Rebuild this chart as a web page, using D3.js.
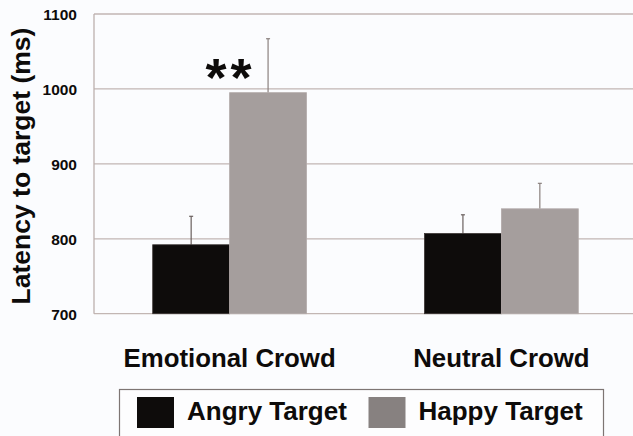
<!DOCTYPE html>
<html>
<head>
<meta charset="utf-8">
<script src="https://cdn.jsdelivr.net/npm/d3@7"></script>
<style>
  html, body { margin: 0; padding: 0; background: #fbfcfe; }
  svg { display: block; }
  text { font-family: "Liberation Sans", Arial, sans-serif; font-weight: bold; fill: #0d0b0a; }
</style>
</head>
<body>
<svg id="chart" width="633" height="436"></svg>
<script>
const categories = ["Emotional Crowd", "Neutral Crowd"];
const seriesNames = ["Angry Target", "Happy Target"];
const angryValues = [792, 807];
const happyValues = [995, 840];
const angryErrors = [38, 25];
const happyErrors = [72, 34];
const yTicks = [700, 800, 900, 1000, 1100];
const yTitle = "Latency to target (ms)";
const significance = ["**", ""];

const colors = { "Angry Target": "#0e0c0b", "Happy Target": "#a59e9d" };
const legendColors = { "Angry Target": "#0e0c0b", "Happy Target": "#878180" };
const errColors = { "Angry Target": "#6a605e", "Happy Target": "#8a807e" };

const svg = d3.select("#chart");
const W = 633, H = 436;
const plotLeft = 94, plotRight = 637, plotTop = 14, plotBottom = 313.7;

svg.append("rect").attr("width", W).attr("height", H).attr("fill", "#fbfcfe");

const y = d3.scaleLinear().domain([700, 1100]).range([plotBottom, plotTop]);
const x0 = d3.scaleBand().domain(categories).range([plotLeft, plotRight])
  .paddingInner(0.434).paddingOuter(0.216);
const x1 = d3.scaleBand().domain(seriesNames).range([0, x0.bandwidth()]);

// gridlines
svg.append("g").selectAll("line").data(yTicks).join("line")
  .attr("x1", plotLeft).attr("x2", W)
  .attr("y1", d => y(d)).attr("y2", d => y(d))
  .attr("stroke", "#c2b6b3").attr("stroke-width", 1.3);

// y axis line
svg.append("line").attr("x1", plotLeft).attr("x2", plotLeft)
  .attr("y1", y(1100)).attr("y2", y(700))
  .attr("stroke", "#bcb0ad").attr("stroke-width", 1.3);

// y tick labels
const yAxis = d3.axisLeft(y).tickValues(yTicks).tickFormat(d3.format("d")).tickSize(0).tickPadding(0);
const yg = svg.append("g").attr("transform", `translate(77,0)`).call(yAxis);
yg.select(".domain").remove();
yg.selectAll("text").attr("font-size", 15.5)
  .attr("fill", "#1a1716").attr("dy", "0.35em");

// y title
svg.append("text").attr("transform", `translate(30,166) rotate(-90)`)
  .attr("text-anchor", "middle").attr("font-size", 26.5).text(yTitle);

// data rows
const rows = categories.map((c, i) => ({
  cat: c,
  sig: significance[i],
  bars: [
    { s: "Angry Target", v: angryValues[i], e: angryErrors[i] },
    { s: "Happy Target", v: happyValues[i], e: happyErrors[i] }
  ]
}));

const groups = svg.append("g").selectAll("g").data(rows).join("g")
  .attr("transform", d => `translate(${x0(d.cat)},0)`);

// error bars (upper only)
groups.selectAll("line.err").data(d => d.bars).join("line").attr("class", "err")
  .attr("x1", d => x1(d.s) + x1.bandwidth() / 2).attr("x2", d => x1(d.s) + x1.bandwidth() / 2)
  .attr("y1", d => y(d.v)).attr("y2", d => y(d.v + d.e))
  .attr("stroke", d => errColors[d.s]).attr("stroke-width", 1.2);
groups.selectAll("line.cap").data(d => d.bars).join("line").attr("class", "cap")
  .attr("x1", d => x1(d.s) + x1.bandwidth() / 2 - 2).attr("x2", d => x1(d.s) + x1.bandwidth() / 2 + 2)
  .attr("y1", d => y(d.v + d.e)).attr("y2", d => y(d.v + d.e))
  .attr("stroke", d => errColors[d.s]).attr("stroke-width", 1.2);

groups.selectAll("rect").data(d => d.bars).join("rect")
  .attr("x", d => x1(d.s)).attr("width", x1.bandwidth())
  .attr("y", d => y(d.v)).attr("height", d => y(700) - y(d.v))
  .attr("fill", d => colors[d.s])
  .attr("stroke", d => d.s === "Happy Target" ? "#b3abaa" : "#3a3432").attr("stroke-width", 0.8);

// significance
groups.append("text").attr("x", x0.bandwidth() / 2 - 1).attr("y", 96)
  .attr("text-anchor", "middle").attr("font-size", 54).attr("letter-spacing", 4)
  .attr("dx", 2)
  .text(d => d.sig);

// category labels
svg.append("g").selectAll("text").data(categories).join("text")
  .attr("x", d => x0(d) + x0.bandwidth() / 2).attr("y", 367)
  .attr("text-anchor", "middle").attr("font-size", 25.8).text(d => d);

// legend
const lg = svg.append("g");
lg.append("rect").attr("x", 119.5).attr("y", 389.5).attr("width", 484).attr("height", 60)
  .attr("fill", "#fdfdfe").attr("stroke", "#7d7573").attr("stroke-width", 1.2);
const legendItems = [
  { s: seriesNames[0], x: 137 },
  { s: seriesNames[1], x: 368.5 }
];
const li = lg.selectAll("g.item").data(legendItems).join("g").attr("class", "item")
  .attr("transform", d => `translate(${d.x},397)`);
li.append("rect").attr("width", 37).attr("height", 31).attr("fill", d => legendColors[d.s]);
li.append("text").attr("x", 50).attr("y", 23).attr("font-size", 26).text(d => d.s);
</script>
</body>
</html>
